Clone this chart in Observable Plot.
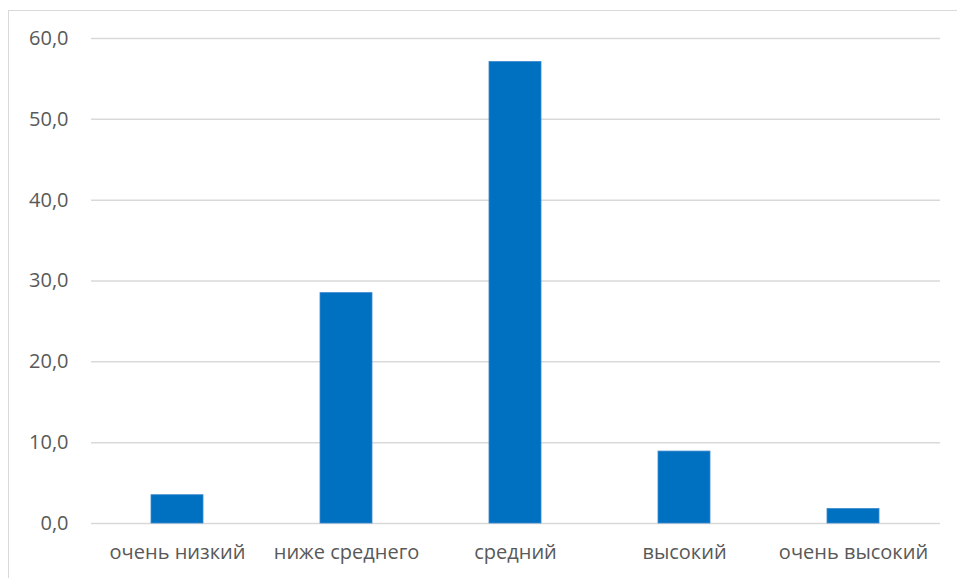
<!DOCTYPE html>
<html lang="ru">
<head>
<meta charset="utf-8">
<script src="https://cdn.jsdelivr.net/npm/d3@7"></script>
<script src="https://cdn.jsdelivr.net/npm/@observablehq/plot@0.6"></script>
<style>
  html, body { margin: 0; padding: 0; background: #fff; }
  body { width: 957px; height: 578px; position: relative; overflow: hidden; }
  #frame {
    position: absolute; left: 8px; top: 10px; width: 980px; height: 620px;
    border: 1.5px solid #d9d9d9; box-sizing: border-box;
  }
  #chart { position: absolute; left: 0; top: 0; }
</style>
</head>
<body>
<div id="frame"></div>
<div id="chart"></div>
<script>
// Уровни и доли (%)
const levels = ["очень низкий", "ниже среднего", "средний", "высокий", "очень высокий"];
const shares = [3.5, 28.5, 57.1, 8.9, 1.8];
const yTicks = [0, 10, 20, 30, 40, 50, 60];

const data = levels.map((level, i) => ({level, share: shares[i]}));
const fmt = d => d.toFixed(1).replace(".", ",");
const font = "'Open Sans', sans-serif";

const chart = Plot.plot({
  width: 957,
  height: 578,
  marginLeft: 91,
  marginRight: 17,
  marginTop: 38,
  marginBottom: 55,
  style: {fontFamily: font, fontSize: "20px", color: "#595959", background: "transparent"},
  x: {domain: levels, paddingInner: 0.69, paddingOuter: 0.345, label: null},
  y: {domain: [0, 60], ticks: yTicks, label: null},
  marks: [
    Plot.ruleY(yTicks, {stroke: "#d9d9d9", strokeWidth: 1.5}),
    Plot.barY(data, {x: "level", y: "share", fill: "#0070c0", stroke: "#3b8ad0", strokeWidth: 0.8}),
    Plot.axisY({ticks: yTicks, tickFormat: fmt, tickSize: 0, tickPadding: 23, fill: "#595959"}),
    Plot.axisX({tickSize: 0, tickPadding: 21, fill: "#595959"})
  ]
});

document.getElementById("chart").appendChild(chart);
</script>
</body>
</html>
